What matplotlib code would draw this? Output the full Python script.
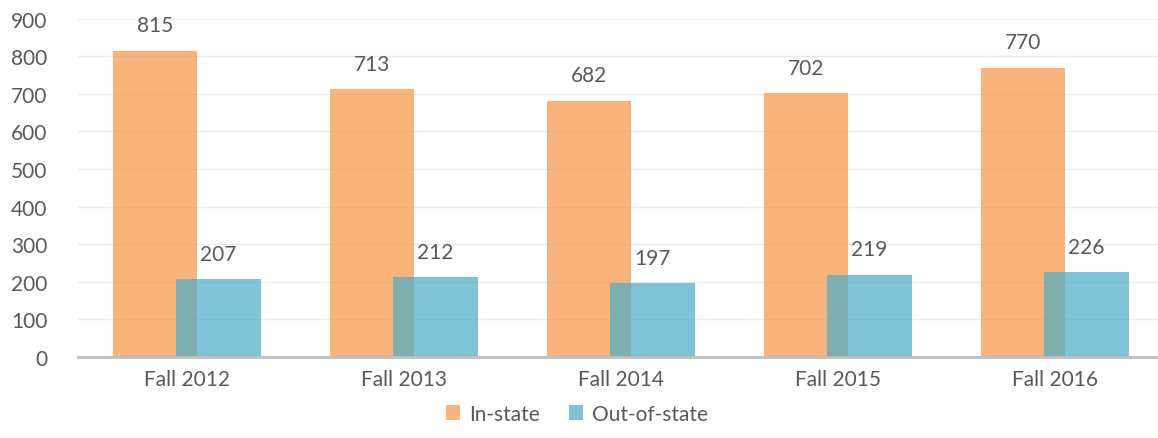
import matplotlib

matplotlib.use("Agg")
import matplotlib.pyplot as plt
import numpy as np

plt.rcParams["font.family"] = ["Lato", "DejaVu Sans"]

# ---- Enrollment by residency ------------------------------------------------
TERMS = ["Fall 2012", "Fall 2013", "Fall 2014", "Fall 2015", "Fall 2016"]
IN_STATE = [815, 713, 682, 702, 770]
OUT_OF_STATE = [207, 212, 197, 219, 226]

ORANGE = "#F79646"
AQUA = "#4BACC6"
TEXT = "#595959"


def main():
    fig = plt.figure(figsize=(11.58, 4.39), dpi=100)
    ax = fig.add_axes([0.0675, 0.185, 0.937, 0.77])

    x = np.arange(len(TERMS))
    w = 0.39
    off = 0.146
    ax.bar(x - off, IN_STATE, w, color=ORANGE, alpha=0.71, label="In-state",
           zorder=2)
    ax.bar(x + off, OUT_OF_STATE, w, color=AQUA, alpha=0.71,
           label="Out-of-state", zorder=3)

    for xi, v in zip(x - off, IN_STATE):
        ax.annotate(str(v), (xi, v), xytext=(0, 11), textcoords="offset points",
                    ha="center", va="bottom", fontsize=15, color=TEXT)
    for xi, v in zip(x + off, OUT_OF_STATE):
        ax.annotate(str(v), (xi, v), xytext=(0, 11), textcoords="offset points",
                    ha="center", va="bottom", fontsize=15, color=TEXT)

    ax.set_xlim(-0.5, len(TERMS) - 0.5)
    ax.set_ylim(0, 900)
    ax.set_yticks(range(0, 901, 100))
    ax.set_xticks(x)
    ax.set_xticklabels(TERMS)
    ax.tick_params(axis="both", length=0, labelsize=15, labelcolor=TEXT)
    ax.tick_params(axis="y", pad=22)
    ax.tick_params(axis="x", pad=9)
    ax.grid(axis="y", color="#EBEBEB", lw=1, zorder=0)
    for side in ["top", "right", "left"]:
        ax.spines[side].set_visible(False)
    ax.spines["bottom"].set_color("#BFBFBF")
    ax.spines["bottom"].set_linewidth(2)
    ax.spines["bottom"].set_zorder(4)

    leg = fig.legend(loc="lower center", bbox_to_anchor=(0.498, -0.01), ncol=2,
                     frameon=False, fontsize=15, handlelength=0.7,
                     handleheight=0.7, handletextpad=0.4, columnspacing=1.4)
    for t in leg.get_texts():
        t.set_color(TEXT)

    fig.savefig("out.png", dpi=100)


if __name__ == "__main__":
    main()
